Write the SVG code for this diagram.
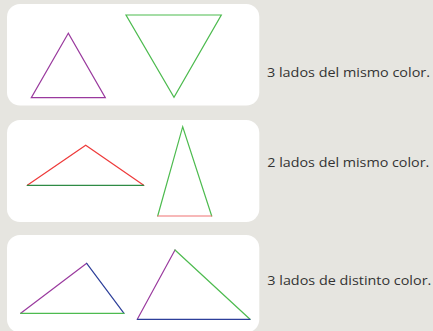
<svg xmlns="http://www.w3.org/2000/svg" width="433" height="331" viewBox="0 0 433 331">
<style>
.panel{fill:#ffffff;}
.s{fill:none;stroke-width:1.2;stroke-linecap:round;}
.pu{stroke:#9a3a9e;}
.gr{stroke:#4dbb4f;}
.dg{stroke:#2e8b45;}
.rd{stroke:#ee3a3a;}
.pk{stroke:#f07272;}
.bl{stroke:#2d3f9a;}
.t{font-family:"Open Sans","DejaVu Sans",sans-serif;font-size:13px;fill:#333333;}
</style>
<rect x="0" y="0" width="433" height="331" fill="#e6e5e0"/>
<g id="panel1">
<rect class="panel" x="7" y="4" width="252.3" height="101.5" rx="13"/>
<path class="s pu" d="M68.3,33.3 L31.3,97.7 L105.3,97.7 Z"/>
<path class="s gr" d="M126,15 L221.3,15 L174,97.3 Z"/>
<text class="t" x="267" y="77" textLength="163" lengthAdjust="spacingAndGlyphs">3 lados del mismo color.</text>
</g>
<g id="panel2">
<rect class="panel" x="7" y="120" width="252.3" height="102" rx="13"/>
<path class="s rd" d="M27.3,185.3 L85.7,145.3 L143.7,185.3"/>
<path class="s dg" d="M27.3,185.3 L143.7,185.3"/>
<path class="s gr" d="M157.7,216 L182.7,126.7 L211.7,216"/>
<path class="s pk" d="M157.7,216 L211.7,216"/>
<text class="t" x="267.3" y="167" textLength="162" lengthAdjust="spacingAndGlyphs">2 lados del mismo color.</text>
</g>
<g id="panel3">
<rect class="panel" x="7" y="235" width="252.3" height="97.5" rx="13"/>
<path class="s pu" d="M20.7,313.3 L86.7,263.3"/>
<path class="s bl" d="M86.7,263.3 L124,313.3"/>
<path class="s gr" d="M20.7,313.3 L124,313.3"/>
<path class="s pu" d="M137.3,319.3 L175,250"/>
<path class="s gr" d="M175,250 L250,319.3"/>
<path class="s bl" d="M137.3,319.3 L250,319.3"/>
<text class="t" x="267.3" y="285" textLength="164" lengthAdjust="spacingAndGlyphs">3 lados de distinto color.</text>
</g>
<g id="connectors"></g>
</svg>
